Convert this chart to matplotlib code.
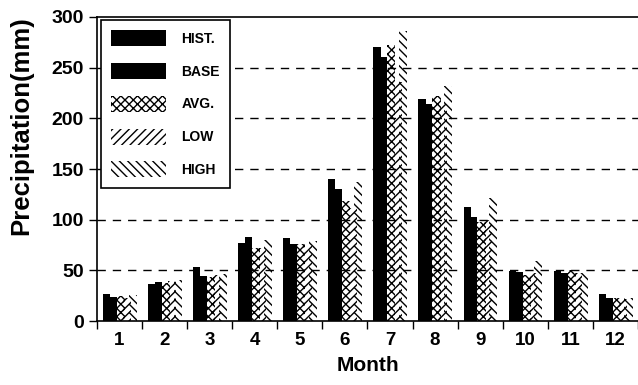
import numpy as np
import matplotlib
matplotlib.use("Agg")
import matplotlib.pyplot as plt

# monthly precipitation (mm) for each scenario
months = [1, 2, 3, 4, 5, 6, 7, 8, 9, 10, 11, 12]
hist = [27, 37, 53, 77, 82, 140, 270, 219, 113, 49, 49, 27]
base = [24, 39, 44, 83, 76, 130, 260, 214, 103, 48, 47, 23]
avg = [25, 38, 43, 72, 76, 118, 272, 222, 98, 45, 50, 23]
low = [23, 40, 45, 72, 74, 112, 236, 214, 100, 47, 47, 22]
high = [26, 41, 46, 80, 79, 137, 286, 232, 121, 59, 47, 23]
series_names = ["HIST.", "BASE", "AVG.", "LOW", "HIGH"]

plt.rcParams["font.family"] = ["Liberation Sans", "DejaVu Sans"]
plt.rcParams["font.weight"] = "bold"
plt.rcParams["hatch.linewidth"] = 1.0

fig = plt.figure(figsize=(6.38, 3.85), dpi=100)
ax = fig.add_axes([0.152, 0.166, 0.848, 0.79])

x = np.array(months)
series = [hist, base, avg, low, high]
hatches = [None, None, "xxxx", "////", "\\\\\\\\"]
offsets = [-0.29, -0.14, 0.03, 0.17, 0.29]
widths = [0.16, 0.16, 0.18, 0.18, 0.18]

for vals, name, h, off, w in zip(series, series_names, hatches, offsets, widths):
    if h is None:
        ax.bar(x + off, vals, width=w, color="black", edgecolor="black",
               linewidth=0, label=name, zorder=3)
    else:
        ax.bar(x + off, vals, width=w, facecolor="none", edgecolor="black",
               hatch=h, linewidth=0, label=name, zorder=3)

ax.set_xlim(0.5, 12.39)
ax.set_ylim(0, 300)
ax.set_yticks([0, 50, 100, 150, 200, 250, 300])
ax.set_xticks(x)
ax.set_xticks(np.arange(0.5, 12.6, 1), minor=True)
ax.tick_params(axis="x", which="major", length=0, labelsize=13.5, pad=8)
ax.tick_params(axis="x", which="minor", length=6, width=1, direction="out")
ax.tick_params(axis="y", length=6, width=1, direction="out", labelsize=14)
for lab in ax.get_xticklabels() + ax.get_yticklabels():
    lab.set_fontweight("bold")

for yv in [50, 100, 150, 200, 250]:
    ax.axhline(yv, color="black", linestyle=(0, (6, 5)), linewidth=1, zorder=1)

ax.spines["right"].set_visible(False)
for s in ["left", "bottom", "top"]:
    ax.spines[s].set_linewidth(1.2)

ax.set_xlabel("Month", fontsize=15, fontweight="bold", labelpad=5)
ax.set_ylabel("Precipitation(mm)", fontsize=18.5, fontweight="bold")
ax.yaxis.set_label_coords(-0.118, 0.642)

leg = ax.legend(loc="upper left", bbox_to_anchor=(0.007, 0.99), fontsize=10,
                handlelength=3.96, handleheight=1.4, labelspacing=1.2,
                handletextpad=1.1, borderpad=0.75, borderaxespad=0,
                fancybox=False, edgecolor="black", framealpha=1)
leg.get_frame().set_linewidth(1.2)
for t in leg.get_texts():
    t.set_fontweight("bold")

fig.savefig("out.png", dpi=100)
